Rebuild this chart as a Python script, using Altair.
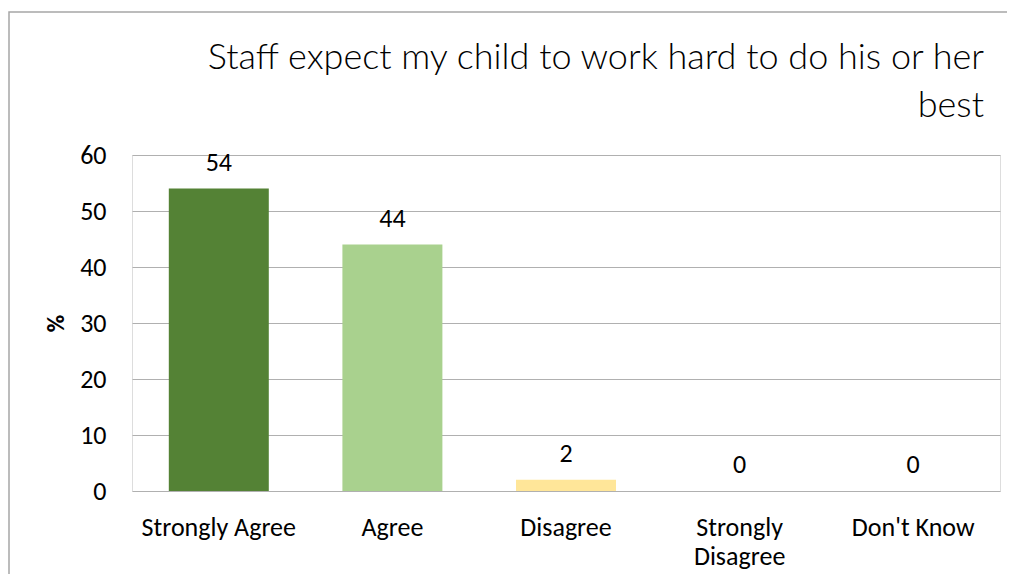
import altair as alt
import pandas as pd

categories = ["Strongly Agree", "Agree", "Disagree", "Strongly Disagree", "Don't Know"]
values = [54, 44, 2, 0, 0]
colors = ["#548235", "#A9D18E", "#FFE699", "#F4B183", "#C55A11"]
y_ticks = [0, 10, 20, 30, 40, 50, 60]
title_lines = ["Staff expect my child to work hard to do his or her", "best"]

df = pd.DataFrame({"category": categories, "value": values})

W, H = 868, 336
LABEL_FONT = "Carlito, Calibri, Lato, sans-serif"

x = alt.X(
    "category:N",
    sort=categories,
    scale=alt.Scale(paddingInner=0.424, paddingOuter=0.212),
    axis=alt.Axis(
        title=None,
        labelAngle=0,
        labelFont=LABEL_FONT,
        labelFontSize=26,
        labelColor="#000000",
        labelPadding=44,
        labelBaseline="alphabetic",
        labelLineHeight=29,
        ticks=False,
        domain=False,
        labelExpr="datum.label == 'Strongly Disagree' ? ['Strongly', 'Disagree'] : datum.label",
    ),
)
y = alt.Y(
    "value:Q",
    scale=alt.Scale(domain=[0, 60], nice=False),
    axis=alt.Axis(
        values=y_ticks,
        title="%",
        titleFont=LABEL_FONT,
        titleFontSize=24,
        titleFontWeight="bold",
        titleColor="#000000",
        titleAngle=-90,
        titleX=-76,
        titleY=H / 2,
        titleAlign="center",
        titleBaseline="middle",
        labelFont=LABEL_FONT,
        labelFontSize=26,
        labelColor="#000000",
        labelPadding=26,
        ticks=False,
        domain=False,
        grid=True,
        gridColor="#b0b0b0",
        gridWidth=1,
    ),
)

bars = alt.Chart(df).mark_bar().encode(
    x=x,
    y=y,
    color=alt.Color("category:N", scale=alt.Scale(domain=categories, range=colors), legend=None),
)

labels = alt.Chart(df).mark_text(
    font=LABEL_FONT, fontSize=26, color="#000000", baseline="alphabetic", dy=-18
).encode(
    x=alt.X("category:N", sort=categories),
    y=alt.Y("value:Q"),
    text=alt.Text("value:Q"),
)

border = alt.Chart(pd.DataFrame({"b": [0]})).mark_rect(
    fill=None, stroke="#a6a6a6", strokeWidth=1.5
).encode(
    x=alt.value(-123),
    x2=alt.value(W + 60),
    y=alt.value(-143),
    y2=alt.value(H + 150),
)

chart = alt.layer(border, bars, labels).properties(
    width=W,
    height=H,
    autosize=alt.AutoSizeParams(type="none"),
    padding={"left": 124, "top": 147, "right": 7, "bottom": 83},
    title=alt.TitleParams(
        text=title_lines,
        anchor="end",
        frame="group",
        font="Futura, 'URW Gothic', 'Century Gothic', Lato, sans-serif",
        fontSize=36,
        fontWeight=300,
        color="#000000",
        lineHeight=48,
        baseline="alphabetic",
        offset=0,
        dx=-16,
        dy=142,
    ),
).configure_view(stroke=None).configure(background="#ffffff")

chart.save("out.html", embed_options={"renderer": "svg", "actions": False})
